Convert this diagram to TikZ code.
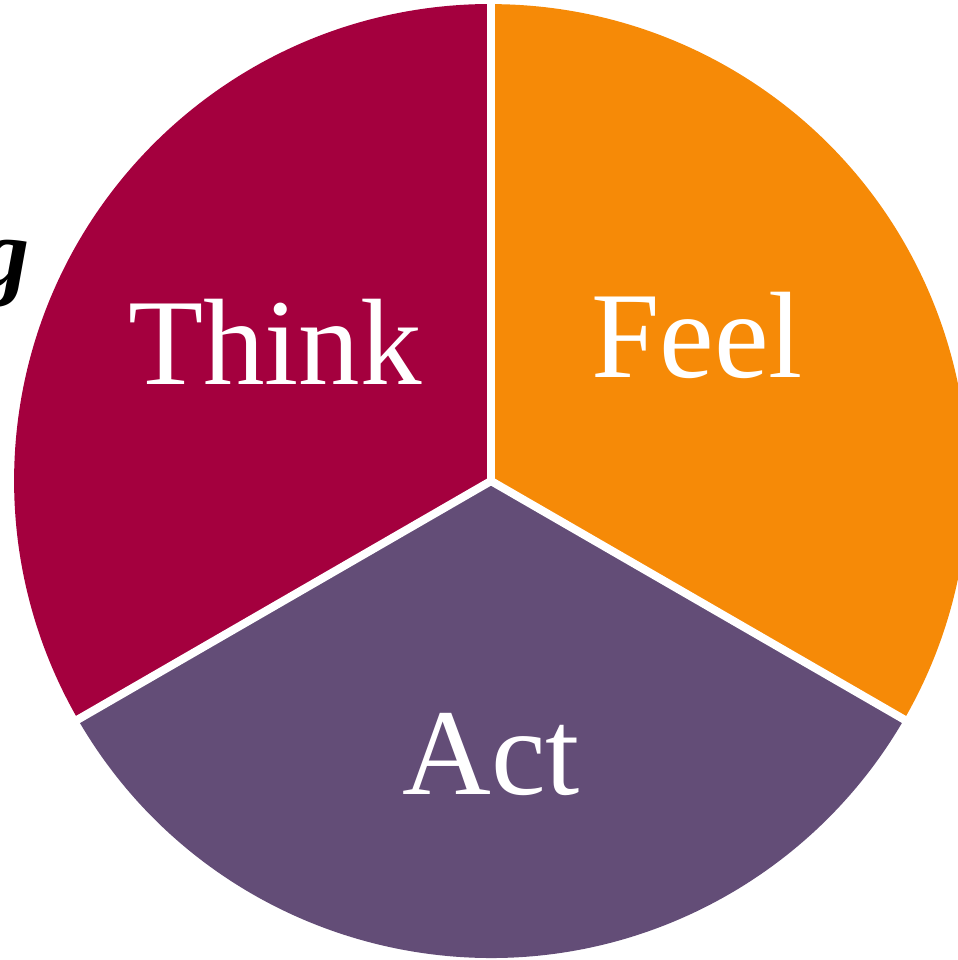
\documentclass[tikz,border=0pt]{standalone}
\usepackage{fontspec}
\setmainfont{Liberation Serif}
\usetikzlibrary{positioning}
\definecolor{thinkred}{HTML}{A4003E}
\definecolor{feelorange}{HTML}{F68A07}
\definecolor{actpurple}{HTML}{634D77}
\newcommand*{\slab}[1]{\fontsize{70}{80}\selectfont #1}

\begin{document}
\begin{tikzpicture}[x=0.02cm,y=0.02cm,
  label/.style={white,anchor=base,inner sep=0pt},
  gap/.style={white,line width=4.6pt}]
\useasboundingbox (0,0) rectangle (957,960);
% Centre of the wheel
\coordinate (c) at (491,479);
% Three sectors
\fill[thinkred] (c) -- ++(90:477) arc[start angle=90,end angle=210,radius=9.54cm] -- cycle;
\fill[actpurple] (c) -- ++(210:477) arc[start angle=210,end angle=330,radius=9.54cm] -- cycle;
\fill[feelorange] (c) -- ++(330:477) arc[start angle=330,end angle=450,radius=9.54cm] -- cycle;
% White gaps between sectors
\draw[gap] (c) -- ++(90:480) coordinate (top);
\draw[gap] (c) -- ++(210:480) coordinate (lower left);
\draw[gap] (c) -- ++(330:480) coordinate (lower right);
% Labels
\node[label] (think) at (275,575) {\slab{Think}};
\node[label] (feel) at (697,582) {\slab{Feel}};
\node[label] (act) at (491,165) {\slab{Act}};
% Cut-off word at the left edge
\node[anchor=base east,inner sep=0pt] (cut) at (30,673)
  {\fontsize{56}{64}\selectfont\textbf{\textit{g}}};
\end{tikzpicture}
\end{document}
